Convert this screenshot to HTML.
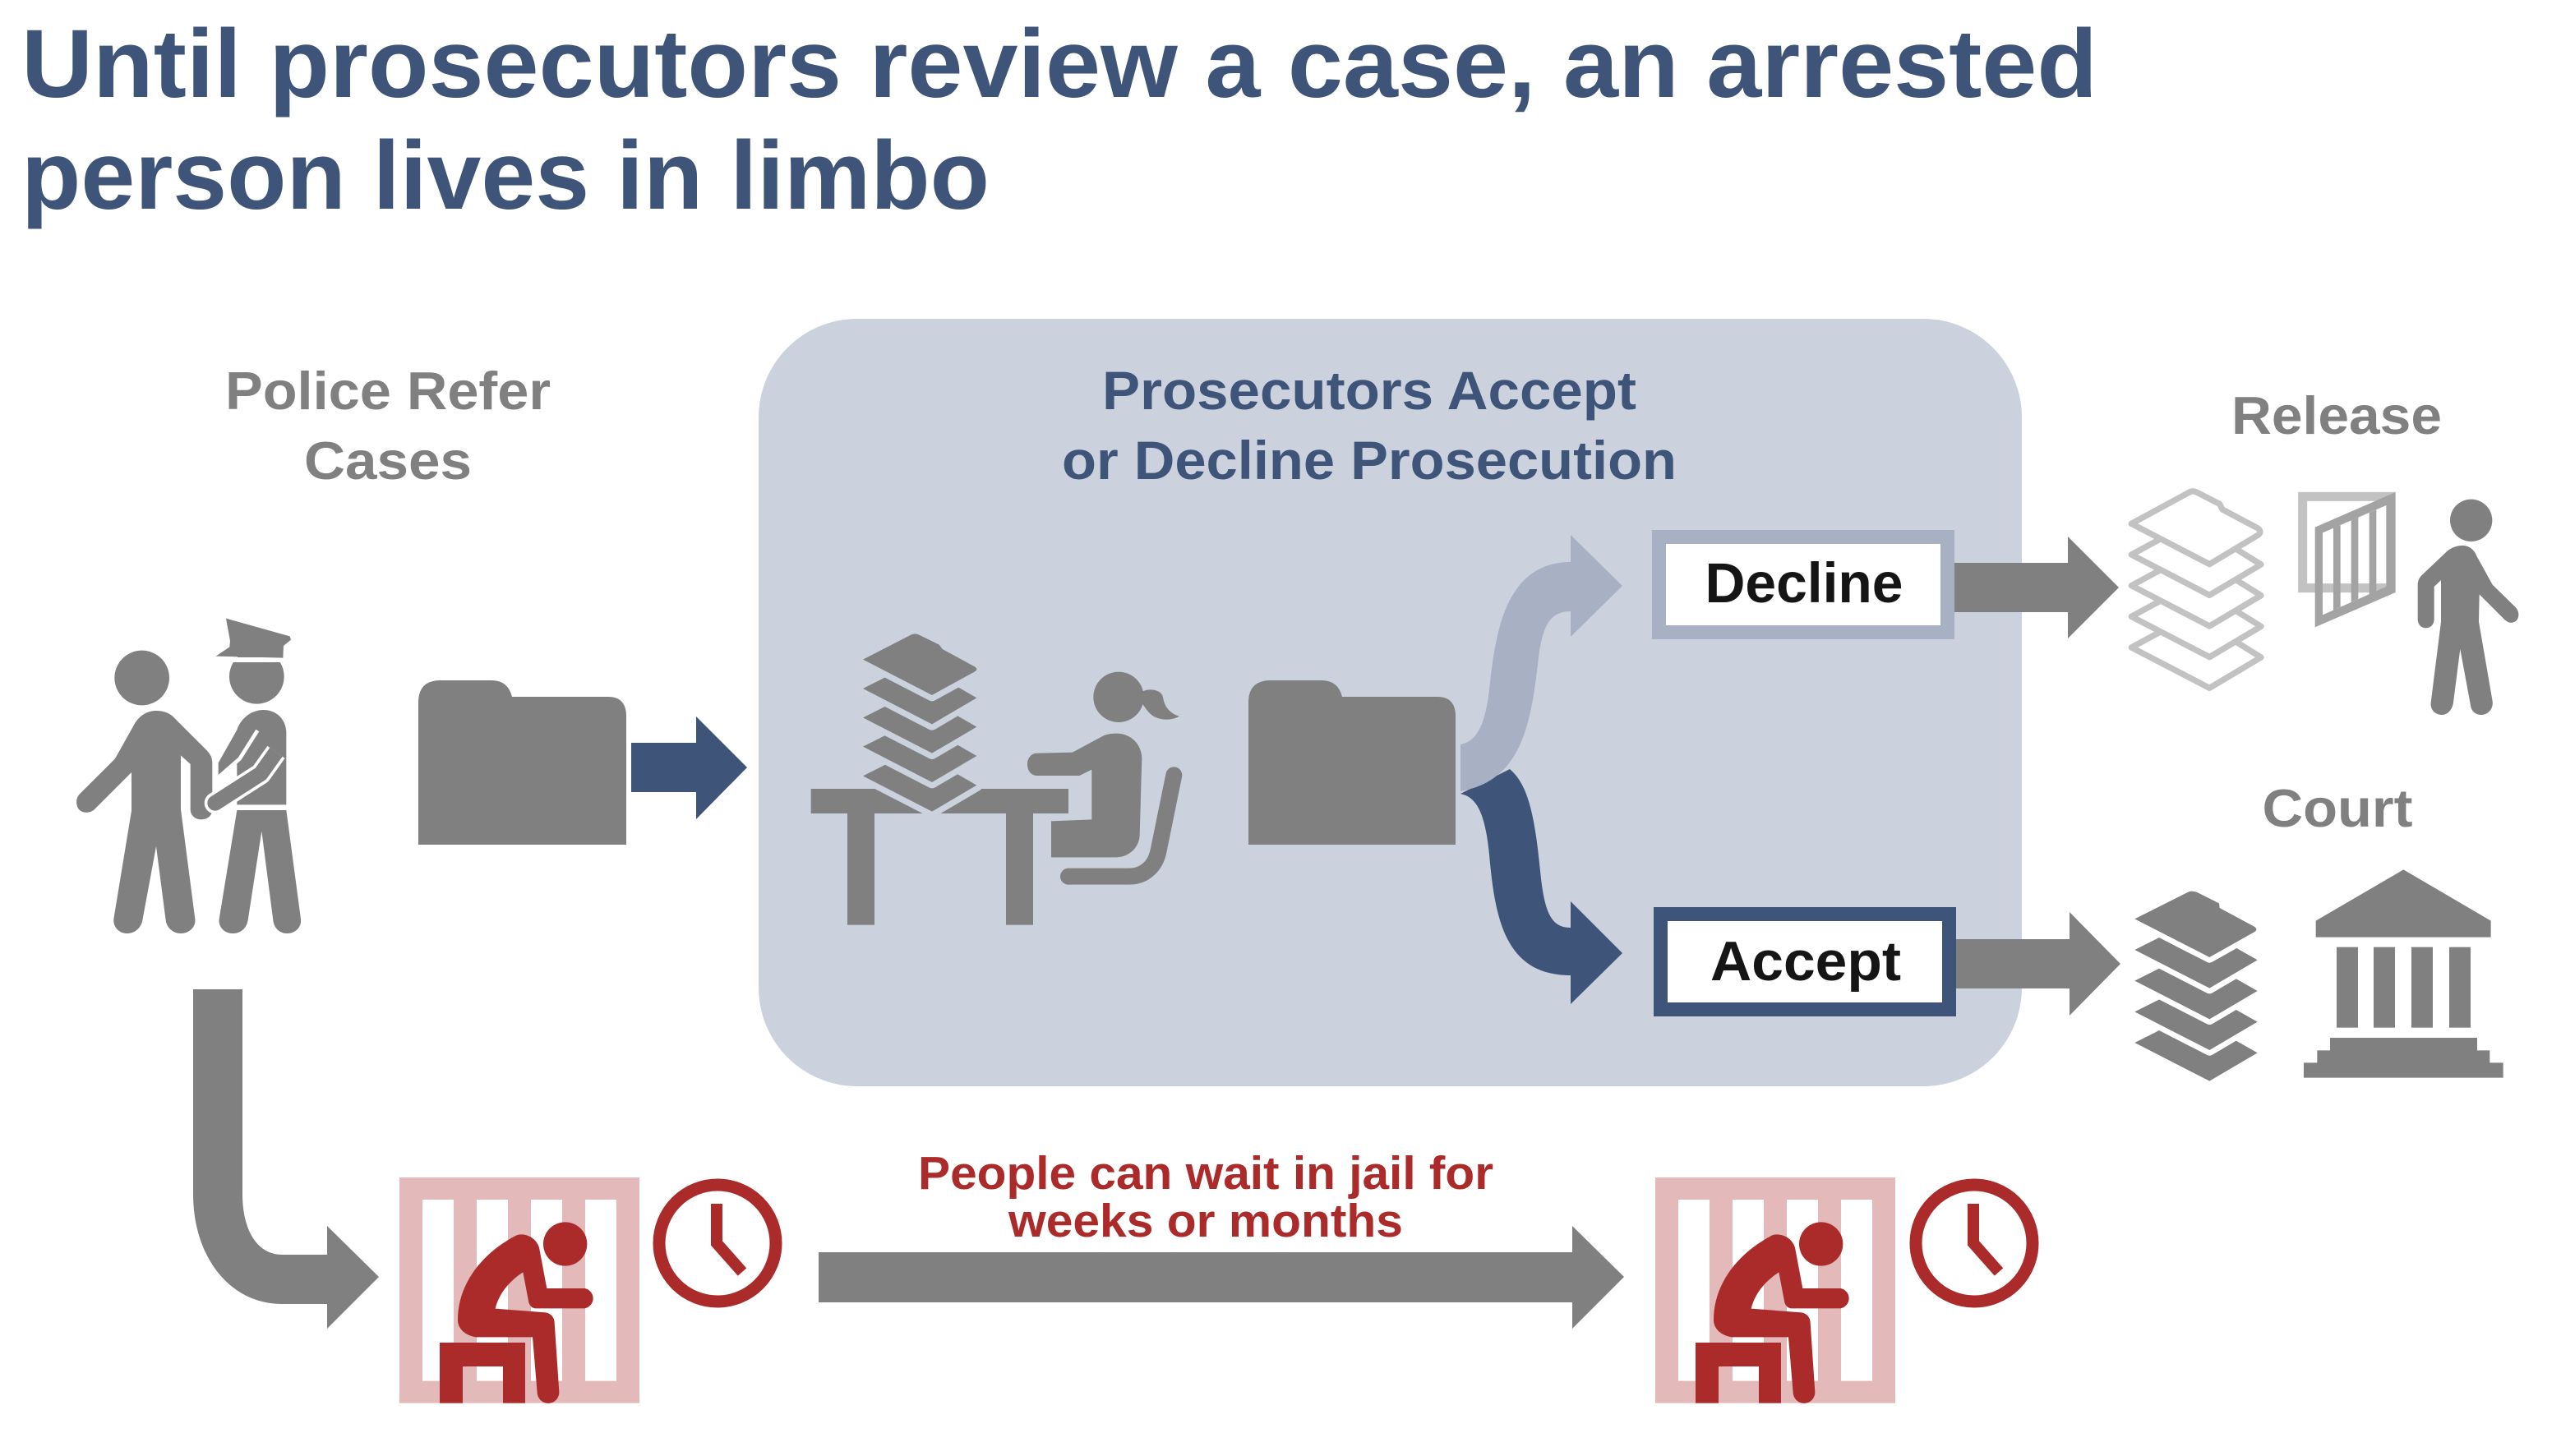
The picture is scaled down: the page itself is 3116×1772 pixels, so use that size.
<!DOCTYPE html>
<html>
<head>
<meta charset="utf-8">
<style>
  html,body{margin:0;padding:0;background:#ffffff;}
  body{width:3116px;height:1772px;overflow:hidden;}
  svg{display:block;}
  text{font-family:"Liberation Sans",Arial,Helvetica,sans-serif;font-weight:bold;}
</style>
</head>
<body>
<svg width="3116" height="1772" viewBox="0 0 3116 1772" xmlns="http://www.w3.org/2000/svg">
  <defs>
    <g id="jail">
      <path fill="#e3b9b9" fill-rule="evenodd" d="M402 129 H1278 V953 H402 Z M486 210 H600 V872 H486 Z M684 210 H798 V872 H684 Z M882 210 H996 V872 H882 Z M1080 210 H1194 V872 H1080 Z"/>
      <g fill="#ab2b2b">
        <circle cx="1007" cy="372" r="80"/>
        <path d="M845 337 C880 337 905 360 912 385 L940 534 L1078 534 A37 37 0 0 1 1078 607 L900 607 C885 607 875 595 873 580 L853 475 C800 510 765 555 752 608 L935 622 C955 625 968 640 968 660 L985 912 A40 40 0 0 1 905 915 L888 712 L680 712 C640 705 615 680 615 650 C615 520 700 410 820 345 C828 340 836 337 845 337 Z"/>
        <path d="M549 732 H861 V953 H780 V819 H633 V953 H549 Z"/>
      </g>
    </g>
  </defs>

  <!-- Title -->
  <text x="26" y="118" font-size="118" fill="#3f5479" textLength="2526" lengthAdjust="spacingAndGlyphs">Until prosecutors review a case, an arrested</text>
  <text x="26" y="254" font-size="118" fill="#3f5479" textLength="1178" lengthAdjust="spacingAndGlyphs">person lives in limbo</text>

  <!-- Big rounded panel -->
  <rect x="923" y="388" width="1537" height="934" rx="120" ry="120" fill="#cbd2de"/>

  <!-- Column headers -->
  <text x="472" y="498" font-size="65" fill="#808080" text-anchor="middle" textLength="396" lengthAdjust="spacingAndGlyphs">Police Refer</text>
  <text x="472" y="583" font-size="65" fill="#808080" text-anchor="middle" textLength="204" lengthAdjust="spacingAndGlyphs">Cases</text>

  <text x="1666" y="498" font-size="66" fill="#3f5479" text-anchor="middle" textLength="650" lengthAdjust="spacingAndGlyphs">Prosecutors Accept</text>
  <text x="1666" y="583" font-size="66" fill="#3f5479" text-anchor="middle" textLength="748" lengthAdjust="spacingAndGlyphs">or Decline Prosecution</text>

  <text x="2843" y="528" font-size="65" fill="#808080" text-anchor="middle" textLength="256" lengthAdjust="spacingAndGlyphs">Release</text>
  <text x="2844" y="1006" font-size="65" fill="#808080" text-anchor="middle" textLength="183" lengthAdjust="spacingAndGlyphs">Court</text>

  <!-- Police & prisoner icon -->
  <g transform="translate(80,740) scale(0.33333)" fill="#808080">
    <circle cx="278" cy="255" r="100"/>
    <path d="M250 425 C270 390 300 375 330 375 C355 375 375 382 390 395 L510 515 C528 533 535 545 535 570 L535 735 C535 760 515 772 495 772 C470 772 455 755 455 735 L455 570 L420 538 L420 735 L472 1135 C476 1165 450 1188 420 1188 C390 1188 368 1165 365 1140 L330 870 L280 1140 C276 1165 254 1188 225 1188 C195 1188 172 1165 175 1135 L240 740 L240 600 L105 735 C90 750 60 750 48 735 C36 720 36 695 50 680 L180 550 Z"/>
    <circle cx="697" cy="250" r="100"/>
    <rect x="540" y="180" width="290" height="18" fill="#ffffff"/>
    <polygon points="585,38 818,103 822,116 795,138 793,182 548,176 598,142 600,120"/>
    <path d="M625 445 C640 400 680 372 722 372 C770 372 805 408 805 455 L805 718 L625 718 L625 560 L557 615 L557 565 Z"/>
    <polyline points="700,447 635,550 555,620" fill="none" stroke="#ffffff" stroke-width="14"/>
    <polyline points="768,526 712,605 545,712" fill="none" stroke="#ffffff" stroke-width="78" stroke-linejoin="round"/>
    <circle cx="545" cy="712" r="39" fill="#ffffff"/>
    <polyline points="768,526 712,605 545,712" fill="none" stroke="#808080" stroke-width="56" stroke-linejoin="round"/>
    <circle cx="545" cy="712" r="28"/>
    <path d="M625 738 H805 L858 1135 C862 1165 838 1188 808 1188 C780 1188 760 1168 757 1140 L715 815 L665 1140 C660 1168 640 1188 610 1188 C580 1188 556 1165 560 1135 Z"/>
  </g>

  <!-- Folder 1 -->
  <path fill="#808080" d="M509 1028 V855 Q509 828 536 828 H598 Q618 828 623 848 H740 Q762 848 762 872 V1028 Z"/>
  <!-- Blue arrow into panel -->
  <polygon fill="#3f5479" points="768,904 847,904 847,872 909,934 847,997 847,964 768,964"/>

  <!-- Desk + worker -->
  <g transform="translate(980,760) scale(0.33333)" fill="#808080">
    <rect x="20" y="600" width="940" height="90"/>
    <rect x="153" y="690" width="99" height="407"/>
    <rect x="732" y="690" width="99" height="407"/>
    <g stroke="#cbd2de" stroke-width="44" stroke-linejoin="round" paint-order="stroke">
      <path transform="translate(0,425)" d="M210 128 L400 32 L625 162 L462 258 Z"/>
      <path transform="translate(0,318)" d="M210 128 L400 32 L625 162 L462 258 Z"/>
      <path transform="translate(0,212)" d="M210 128 L400 32 L625 162 L462 258 Z"/>
      <path transform="translate(0,106)" d="M210 128 L400 32 L625 162 L462 258 Z"/>
      <path d="M210 128 L385 38 Q400 30 415 38 L488 74 L500 90 L618 154 Q632 164 618 172 L462 258 Z"/>
    </g>
    <circle cx="1143" cy="265" r="92"/>
    <path d="M1230 245 C1260 230 1300 240 1305 265 C1310 300 1330 325 1365 335 C1340 350 1300 352 1270 335 C1250 322 1238 300 1230 290 Z"/>
    <path d="M1090 405 C1105 400 1120 398 1135 398 C1190 398 1228 440 1228 490 L1220 770 C1218 815 1180 850 1135 850 L897 850 L897 718 L1045 712 L1045 530 L1000 552 L845 552 C825 552 810 535 810 510 C810 488 825 470 845 470 L975 467 Z"/>
    <path d="M1345 550 L1290 820 C1280 880 1240 920 1180 920 L960 920" fill="none" stroke="#808080" stroke-width="60" stroke-linecap="round"/>
  </g>

  <!-- Folder 2 -->
  <path fill="#808080" d="M1519 1028 V855 Q1519 828 1546 828 H1608 Q1628 828 1633 848 H1749 Q1771 848 1771 872 V1028 Z"/>

  <!-- Accept curved arrow (dark) -->
  <path fill="#3f5479" d="M1777 966 C1797 970 1807 990 1812 1040 C1819 1120 1832 1187 1911 1187 V1222 L1974 1160 L1911 1097 V1129 C1887 1129 1879 1110 1874 1060 C1867 990 1859 955 1837 936 Z"/>
  <!-- Decline curved arrow (light) -->
  <path fill="#a8b0c4" d="M1777 906 C1798 902 1807 880 1812 840 C1819 770 1832 684 1911 684 V651 L1974 713 L1911 775 V744 C1887 744 1877 760 1872 800 C1863 880 1852 950 1777 963 Z"/>

  <!-- Decline box -->
  <rect x="2018.5" y="653.5" width="351" height="116" fill="#ffffff" stroke="#a8b0c4" stroke-width="17"/>
  <text x="2195" y="733" font-size="69" fill="#151515" text-anchor="middle" textLength="241" lengthAdjust="spacingAndGlyphs">Decline</text>
  <!-- Accept box -->
  <rect x="2020.5" y="1112.5" width="351" height="116" fill="#ffffff" stroke="#3f5479" stroke-width="17"/>
  <text x="2197" y="1193" font-size="68" fill="#151515" text-anchor="middle" textLength="232" lengthAdjust="spacingAndGlyphs">Accept</text>

  <!-- Gray arrows to Release / Court -->
  <polygon fill="#808080" points="2378,685 2516,685 2516,653 2578,715 2516,777 2516,745 2378,745"/>
  <polygon fill="#808080" points="2380,1143 2518,1143 2518,1110 2580,1173 2518,1236 2518,1203 2380,1203"/>

  <!-- Release icons -->
  <g transform="translate(2580,560) scale(0.33333)">
    <g fill="#ffffff" stroke="#c2c2c2" stroke-width="22" stroke-linejoin="round">
      <path transform="translate(0,452)" d="M40 232 L262 112 L513 268 L325 380 Z"/>
      <path transform="translate(0,339)" d="M40 232 L262 112 L513 268 L325 380 Z"/>
      <path transform="translate(0,226)" d="M40 232 L262 112 L513 268 L325 380 Z"/>
      <path transform="translate(0,113)" d="M40 232 L262 112 L513 268 L325 380 Z"/>
      <path d="M40 232 L250 118 Q262 110 280 118 L362 160 L372 180 L500 248 Q520 262 500 275 L325 380 Z"/>
    </g>
    <rect x="665" y="133" width="322" height="334" fill="none" stroke="#c2c2c2" stroke-width="33"/>
    <path fill="#a3a3a3" fill-rule="evenodd" d="M710 245 L1004 117 L1004 483 L710 610 Z M738 265 L970 165 L970 462 L738 565 Z"/>
    <polygon fill="#a3a3a3" points="777,248 803,237 803,536 777,548"/>
    <polygon fill="#a3a3a3" points="842,220 868,209 868,507 842,519"/>
    <polygon fill="#a3a3a3" points="908,192 934,181 934,478 908,490"/>
    <g fill="#808080">
      <circle cx="1280" cy="220" r="77"/>
      <path d="M1195 330 C1215 315 1240 310 1255 312 C1280 315 1295 335 1300 350 L1358 455 L1440 535 C1462 555 1455 590 1430 593 C1418 595 1408 588 1400 580 L1310 490 L1308 590 L1358 880 C1362 910 1340 930 1318 930 C1295 930 1280 915 1278 895 L1240 690 L1215 885 C1212 910 1195 930 1172 930 C1148 930 1130 910 1133 885 L1170 590 L1170 438 L1145 462 L1145 580 C1145 600 1132 613 1115 613 C1098 613 1085 600 1085 580 L1085 455 C1085 440 1092 428 1100 420 Z"/>
    </g>
  </g>

  <!-- Court icons -->
  <g transform="translate(2580,1040) scale(0.33333)" fill="#808080">
    <g stroke="#ffffff" stroke-width="40" stroke-linejoin="round" paint-order="stroke">
      <path transform="translate(0,452)" d="M52 235 L255 133 L500 272 L325 375 Z"/>
      <path transform="translate(0,339)" d="M52 235 L255 133 L500 272 L325 375 Z"/>
      <path transform="translate(0,226)" d="M52 235 L255 133 L500 272 L325 375 Z"/>
      <path transform="translate(0,113)" d="M52 235 L255 133 L500 272 L325 375 Z"/>
      <path d="M52 235 L245 138 Q258 130 280 138 L360 178 L362 195 L490 264 Q502 274 490 282 L325 375 Z"/>
    </g>
    <polygon points="713,242 1033,55 1352,242 1352,302 713,302"/>
    <rect x="789" y="338" width="78" height="294"/>
    <rect x="924" y="338" width="78" height="294"/>
    <rect x="1062" y="338" width="78" height="294"/>
    <rect x="1200" y="338" width="78" height="294"/>
    <polygon points="765,669 1302,669 1302,715 1348,715 1348,760 1397,760 1397,815 669,815 669,760 718,760 718,715 765,715"/>
  </g>

  <!-- L-shaped arrow to jail -->
  <path fill="#808080" d="M235 1204 H295 V1453 C295 1500 315 1527 343 1527 H398 V1492 L461 1554 L398 1617 V1587 H343 C280 1587 235 1530 235 1453 Z"/>

  <!-- Left jail + clock -->
  <use href="#jail" transform="translate(352,1390) scale(0.33333)"/>
  <circle cx="873" cy="1513" r="71" fill="none" stroke="#ab2b2b" stroke-width="15"/>
  <polyline points="872,1465 872,1513 903,1548" fill="none" stroke="#ab2b2b" stroke-width="14"/>

  <!-- Long arrow -->
  <polygon fill="#808080" points="996,1524 1913,1524 1913,1492 1976,1554 1913,1617 1913,1585 996,1585"/>

  <!-- Red caption -->
  <text x="1467" y="1447" font-size="57" fill="#ab2b2b" text-anchor="middle" textLength="700" lengthAdjust="spacingAndGlyphs">People can wait in jail for</text>
  <text x="1467" y="1505" font-size="57" fill="#ab2b2b" text-anchor="middle" textLength="480" lengthAdjust="spacingAndGlyphs">weeks or months</text>

  <!-- Right jail + clock -->
  <use href="#jail" transform="translate(1880,1390) scale(0.33333)"/>
  <circle cx="2402" cy="1513" r="71" fill="none" stroke="#ab2b2b" stroke-width="15"/>
  <polyline points="2401,1465 2401,1513 2432,1548" fill="none" stroke="#ab2b2b" stroke-width="14"/>
</svg>
</body>
</html>
